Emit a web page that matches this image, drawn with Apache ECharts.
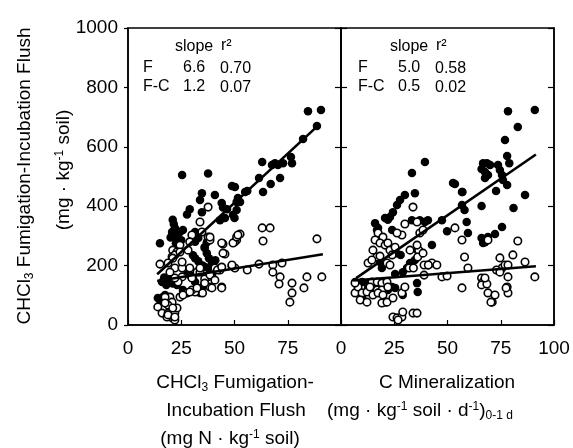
<!DOCTYPE html>
<html>
<head>
<meta charset="utf-8">
<script src="https://cdn.jsdelivr.net/npm/echarts@6/dist/echarts.min.js"></script>
<style>
html, body { margin: 0; padding: 0; background: #fff; }
#chart { width: 573px; height: 448px; }
</style>
</head>
<body>
<div id="chart"></div>
<script>
// fumigation flush panel (left), filled = F, open = F-C
var leftFilled = [
  [84.5,720],[90.6,724],[88.7,670],[82.2,626],[76.5,566],[77,545],[63,549],[67.6,539],[69,545],[70.4,539],[72.8,545],
  [71.4,495],[67,475],[63.4,448],[61.5,495],[56,451],[52.6,414],[50.2,465],[51,387],[50,360],
  [25.4,505],[37.6,510],[48.8,468],[34.7,444],[33.8,421],[40.8,438],[29,390],[27.7,372],[34.7,380],[44,411],[44.6,396],
  [46.5,390],[51,414],[51.6,428],[55,448],[49.3,370],[45.5,360],[43.2,353],
  [21,354],[22,327],[24.4,313],[20.7,313],[25.8,320],[23,303],[21.5,340],[23.5,290],[22.5,275],[25,285],[24,265],[20,295],
  [15,275],[31.5,313],[37,279],[36,263],[31.5,280],[33,293],[36,259],[37,242],[30.5,235],[31.5,225],[39.4,208],[37.6,192],
  [36,195],[39.4,168],[28,178],[29,168],[33,215],[38,225],[41,218],[35,200],
  [17,160],[19,150],[21,140],[18,135],[16,145],[20,165],[22,155],[23,135],
  [14,91],[15,84],[16.4,94],[17.4,77],[17.4,101],
  [31.5,145],[30.5,158],[36,141],[35,128],[25.8,118],[33.8,108]
];
var leftOpen = [
  [63,327],[66.7,327],[63.4,283],[52.6,306],[51,286],[50,279],[88.7,290],[50.2,192],[56,185],[61.5,205],[68,202],[72.3,209],
  [68,178],[71.4,162],[70.9,138],[77,141],[77,108],[76,77],[82.6,125],[84,162],[91,162],
  [37.6,397],[33.8,347],[30,303],[37.6,296],[38.5,286],[24.4,269],[21,252],[23,246],[28.2,252],[20.7,230],[22,236],[15,205],
  [22,192],[25.4,192],[44.6,273],[49.3,276],[51,296],[51.6,303],[45.5,239],[43.2,185],[40.8,192],[48.8,199],[32.4,178],
  [33.8,178],[30,158],[25.4,162],[23.5,145],[37.6,162],[36,155],[38.5,128],[39.4,125],[35,108],[31.5,111],[27.7,108],[30,118],
  [24.4,94],[19.7,94],[17.4,94],[20.7,77],[18.8,67],[14,61],[16,40],[18.8,40],[22,40],[23,57],[20.7,24],[22,17],[18.3,27],[44,128],
  [29,280],[24.4,246],[34.7,313],[38.5,296],[44,276],[44.6,242],[48.8,202],[21,225],[25.4,212],[29,192],[33.8,192],[38.5,168],
  [42,185],[44,195],[40.8,151],[36,141],[32.4,125],[29,111],[25.8,101],[44,125],[18.8,209],[19.7,178],[22,158],
  [17.4,74],[21,57],[18.8,34],[22,27]
];
// C mineralization panel (right)
var rightFilled = [
  [78.4,720],[91,724],[83,667],[77,623],[39.4,549],[78,569],[79,545],[66.7,545],[68.5,545],[70,539],[66,525],[67.6,515],
  [69,505],[73.7,539],[74.6,522],[75.6,505],[76,488],[78,471],[67.6,495],[53.5,475],[57,448],[72.8,451],[86.4,438],
  [56.8,404],[58,387],[66,401],[81,394],[47.4,353],[59,347],[49.8,316],[59.6,310],[66,293],[67.6,279],[69,296],[66.7,276],
  [72.3,306],[75.6,330],
  [33.3,512],[34.7,444],[30,438],[27.7,421],[26.3,404],[24.4,380],[23,364],[22,354],[20.7,360],[16,343],[16.9,320],[17.4,327],
  [24,320],[33.3,353],[37,353],[39.4,347],[40.8,353],[52.6,478],[56.8,448],[42.7,269],[36,252],[34.7,219],[32.4,209],[31,192],
  [29,178],[25.4,172],[18.3,212],[19.2,192],
  [6.6,145],[8,141],[9.9,145],[12.2,141],[13.6,128],[15,135],[17.4,128],[20.7,141],[22,118],[24,128],[25.4,125],[9.9,94],
  [12.7,125],[29,101],[35.7,141],[36,111],[26,242],[28,236]
];
var rightOpen = [
  [33.8,397],[35.7,347],[30,340],[28.6,303],[26.3,310],[37,310],[38.5,320],[17.4,310],[19.7,296],[16,286],[18.3,276],[20.7,269],
  [22,276],[23,252],[24,236],[25.4,262],[15,252],[16.9,229],[18.3,232],[12.7,209],[14.5,219],[21.6,209],[23,202],[36.5,252],
  [36,229],[38.5,242],[42.7,209],[40.8,202],[35.7,269],[32.4,252],[45,202],[53.5,327],[56.8,286],[58,229],[59.6,192],[47.4,162],
  [49.8,165],[56.8,125],[66,158],[66.7,145],[66,135],[68.5,138],[67.6,158],[69,108],[71,77],[72.3,101],[69,286],[83,283],
  [74.6,226],[75.6,192],[77,202],[78.4,202],[78.4,162],[78,128],[78.4,108],[80.7,236],[86.4,212],[91,162],[73,185],[74.6,178],
  [70.4,77],[77.5,125],
  [6.6,108],[8,128],[9.9,108],[12.2,111],[9,84],[12.2,77],[6.6,141],[14.5,145],[17,145],[19.2,141],[21.6,145],[13.6,128],
  [17,118],[19.2,118],[22,128],[15,101],[17.4,108],[19.7,101],[20.7,77],[19.2,74],[21.6,77],[24.4,91],[24.4,27],[26.3,24],
  [28.6,27],[26.8,17],[29,44],[33.8,40],[35.7,40],[28.6,108],[30,128],[32,192],[34,192],[39,202],[41,202],[39,168]
];
// regression lines (end points)
var leftLineF = [[13.7,171],[88.7,668]];
var leftLineFC = [[13.7,148],[91.5,238]];
var rightLineF = [[7.1,158],[91.5,574]];
var rightLineFC = [[5.7,150],[91.5,198]];
// slope / r2 tables
var leftStats = [['F','6.6','0.70'],['F-C','1.2','0.07']];
var rightStats = [['F','5.0','0.58'],['F-C','0.5','0.02']];

var FONT = '"Liberation Sans", Arial, sans-serif';
var myChart = echarts.init(document.getElementById('chart'));

var richStyle = {
  n: { fontSize: 19, fontFamily: FONT, color: '#000', lineHeight: 21 },
  sub: { fontSize: 12, fontFamily: FONT, color: '#000', lineHeight: 8, verticalAlign: 'bottom' },
  sup: { fontSize: 12, fontFamily: FONT, color: '#000', lineHeight: 8, verticalAlign: 'top' }
};

function txt(x, y, t, rot, align) {
  return {
    type: 'text', x: x, y: y, rotation: rot || 0,
    style: {
      text: t, rich: richStyle, font: '19px ' + FONT, fill: '#000',
      align: align || 'center', verticalAlign: 'middle'
    }
  };
}

function statText(x, y, t) {
  return {
    type: 'text', x: x, y: y,
    style: { text: t, font: '16px ' + FONT, fill: '#000', align: 'left', verticalAlign: 'middle' }
  };
}

var graphics = [];
[[0, leftStats], [215, rightStats]].forEach(function (p) {
  var dx = p[0];
  graphics.push(statText(175 + dx, 47, 'slope'));
  graphics.push(statText(221 + dx, 46, 'r\u00B2'));
  p[1].forEach(function (row, i) {
    var y = 68 + i * 19;
    graphics.push(statText(143 + dx, y, row[0]));
    graphics.push(statText(183 + dx, y, row[1]));
    graphics.push(statText(220 + dx, y + 1, row[2]));
  });
});
graphics.push(txt(25, 176, '{n|CHCl}{sub|3}{n| Fumigation-Incubation Flush}', Math.PI / 2));
graphics.push(txt(64, 170, '{n|(mg \u00B7 kg}{sup|-1}{n| soil)}', Math.PI / 2));
graphics.push(txt(235, 383, '{n|CHCl}{sub|3}{n| Fumigation-}'));
graphics.push(txt(236, 411, '{n|Incubation Flush}'));
graphics.push(txt(230, 439, '{n|(mg N \u00B7 kg}{sup|-1}{n| soil)}'));
graphics.push(txt(447, 383, '{n|C Mineralization}'));
graphics.push(txt(420, 411, '{n|(mg \u00B7 kg}{sup|-1}{n| soil \u00B7 d}{sup|-1}{n|)}{sub|0-1 d}'));

function xAx(grid, showMax) {
  return {
    gridIndex: grid, type: 'value', min: 0, max: 100, interval: 25,
    axisLine: { lineStyle: { color: '#000', width: 1.5 } },
    axisTick: { inside: true, length: 5, lineStyle: { color: '#000', width: 1.2 } },
    axisLabel: { fontSize: 19, fontFamily: FONT, color: '#000', margin: 14, showMaxLabel: showMax },
    splitLine: { show: false }
  };
}
function yAx(grid, pos, labels, inside) {
  return {
    gridIndex: grid, type: 'value', position: pos, min: 0, max: 1000, interval: 200,
    axisLine: { show: true, lineStyle: { color: '#000', width: 1.5 } },
    axisTick: { show: true, inside: inside, length: inside ? 6 : 4, lineStyle: { color: '#000', width: 1.2 } },
    axisLabel: { show: labels, fontSize: 19, fontFamily: FONT, color: '#000', margin: 10,
      formatter: function (v) { return String(v); } },
    splitLine: { show: false }
  };
}
function filled(data, xi, yi) {
  return { type: 'scatter', xAxisIndex: xi, yAxisIndex: yi, data: data, symbolSize: 8.5,
    itemStyle: { color: '#000', opacity: 1 }, z: 2, silent: true };
}
function open(data, xi, yi) {
  return { type: 'scatter', xAxisIndex: xi, yAxisIndex: yi, data: data, symbolSize: 7.5,
    itemStyle: { color: '#fff', borderColor: '#000', borderWidth: 1.6, opacity: 1 }, z: 3, silent: true };
}
function fit(data, xi, yi) {
  return { type: 'line', xAxisIndex: xi, yAxisIndex: yi, data: data, showSymbol: false, symbol: 'none',
    lineStyle: { color: '#000', width: 2.6 }, z: 4, silent: true };
}

var option = {
  animation: false,
  backgroundColor: '#fff',
  grid: [
    { left: 128, top: 28, width: 213, height: 297, show: true, borderColor: '#000', borderWidth: 1.5 },
    { left: 341, top: 28, width: 213, height: 297, show: true, borderColor: '#000', borderWidth: 1.5 }
  ],
  xAxis: [xAx(0, false), xAx(1, true)],
  yAxis: [yAx(0, 'left', true, false), yAx(0, 'right', false, true), yAx(1, 'left', false, true), yAx(1, 'right', false, true)],
  series: [
    filled(leftFilled, 0, 0), open(leftOpen, 0, 0), fit(leftLineF, 0, 0), fit(leftLineFC, 0, 0),
    filled(rightFilled, 1, 2), open(rightOpen, 1, 2), fit(rightLineF, 1, 2), fit(rightLineFC, 1, 2)
  ],
  graphic: graphics
};
myChart.setOption(option);
</script>
</body>
</html>
